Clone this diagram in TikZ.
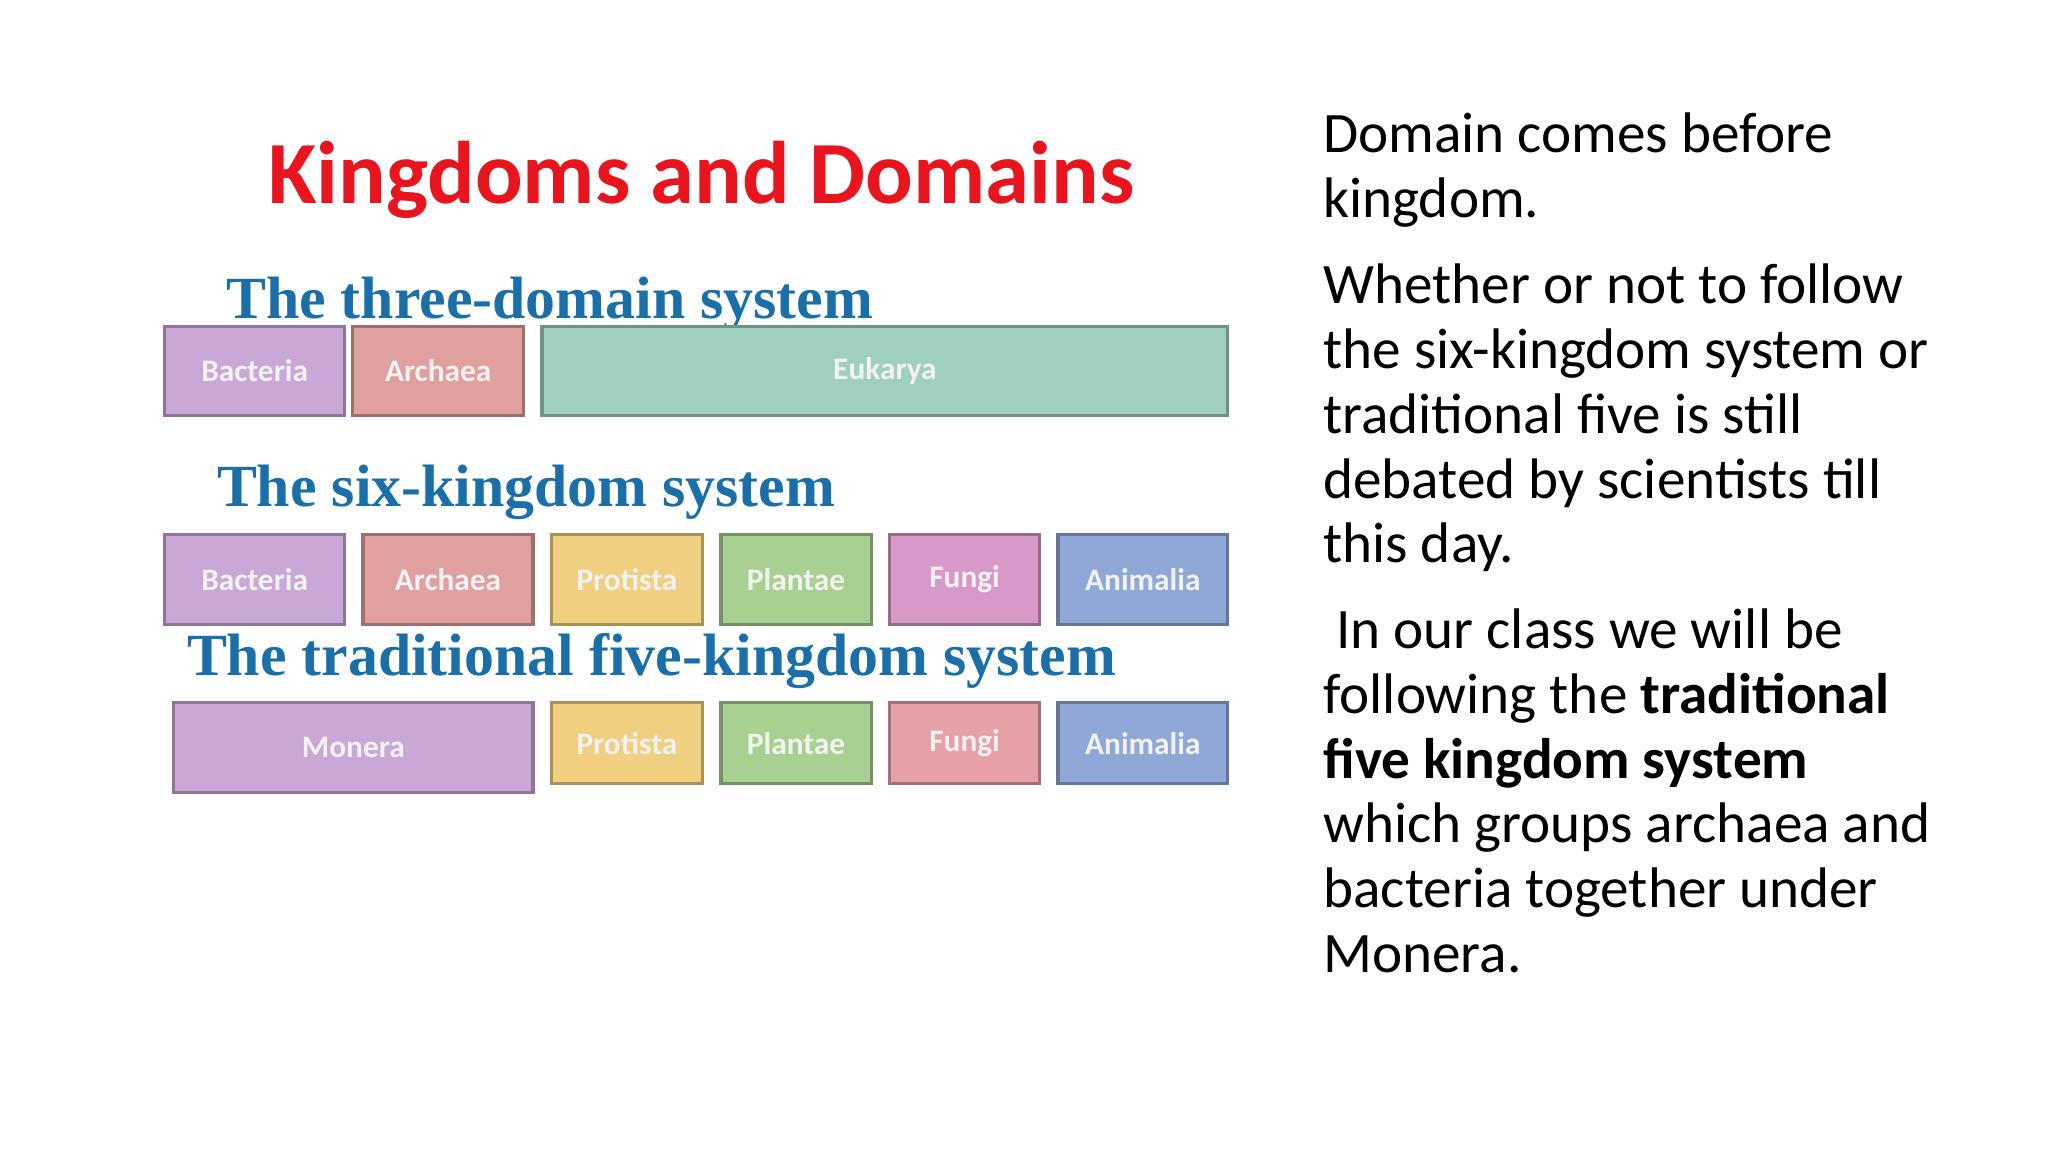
\documentclass[tikz,border=0pt]{standalone}
\usepackage{fontspec}
\setmainfont{Carlito}
\newfontfamily\serifb{Liberation Serif}
\begin{document}
\begin{tikzpicture}[x=1pt,y=-1pt,
  kbox/.style={draw=#1!70!black,line width=2.5pt,inner sep=0pt,font=\bfseries\fontsize{24}{26}\selectfont\color{white!90!gray}},
  sub/.style={anchor=base west,inner sep=0pt,font=\serifb\bfseries\fontsize{45.8}{50}\selectfont,text=subblue},
  para/.style={anchor=north west,inner sep=0pt,align=left,font=\fontsize{43.8}{49.6}\selectfont}]
\definecolor{subblue}{HTML}{1A6FA8}
\definecolor{cpur}{HTML}{C9A8D8}\definecolor{cred}{HTML}{E0A0A0}\definecolor{cgrn}{HTML}{9ECFBF}
\definecolor{cyel}{HTML}{F0D080}\definecolor{cgr2}{HTML}{A8D090}\definecolor{cpnk}{HTML}{D898C8}
\definecolor{cblu}{HTML}{90A8D8}\definecolor{cfun}{HTML}{E8A0A8}
\definecolor{titred}{HTML}{E8141E}
\useasboundingbox (0,0) rectangle (1568,882);
\fill[white] (0,0) rectangle (1568,882);
\node[anchor=base,inner sep=0pt,font=\bfseries\fontsize{68}{72}\selectfont,text=titred] (title) at (537,156) {Kingdoms and Domains};
\node[sub] (s1) at (173,244) {The three-domain system};
\node[sub] (s2) at (166,388) {The six-kingdom system};
\node[sub] (s3) at (143,517) {The traditional five-kingdom system};
\newcommand\kb[7]{\node[kbox=#6,fill=#6,minimum width={#3-#2},minimum height={#5-#4}] (#1) at ({(#2+#3)/2},{(#4+#5)/2}) {#7};}
\kb{a1}{126}{264}{250}{318}{cpur}{Bacteria}
\kb{a2}{270}{401}{250}{318}{cred}{Archaea}
\kb{a3}{415}{940}{250}{318}{cgrn}{Eukarya}
\kb{b1}{126}{264}{409}{478}{cpur}{Bacteria}
\kb{b2}{278}{408}{409}{478}{cred}{Archaea}
\kb{b3}{422}{538}{409}{478}{cyel}{Protista}
\kb{b4}{552}{667}{409}{478}{cgr2}{Plantae}
\kb{b5}{681}{796}{409}{478}{cpnk}{Fungi}
\kb{b6}{810}{940}{409}{478}{cblu}{Animalia}
\kb{c1}{133}{408}{538}{607}{cpur}{Monera}
\kb{c2}{422}{538}{538}{600}{cyel}{Protista}
\kb{c3}{552}{667}{538}{600}{cgr2}{Plantae}
\kb{c4}{681}{796}{538}{600}{cfun}{Fungi}
\kb{c5}{810}{940}{538}{600}{cblu}{Animalia}
\node[para] (p1) at (1013,86) {Domain comes before\\kingdom.};
\node[para] (p2) at (1013,202) {Whether or not to follow\\the six-kingdom system or\\traditional five is still\\debated by scientists till\\this day.};
\node[para] (p3) at (1013,466) {\ In our class we will be\\following the \textbf{traditional}\\\textbf{five kingdom system}\\which groups archaea and\\bacteria together under\\Monera.};
\end{tikzpicture}
\end{document}
